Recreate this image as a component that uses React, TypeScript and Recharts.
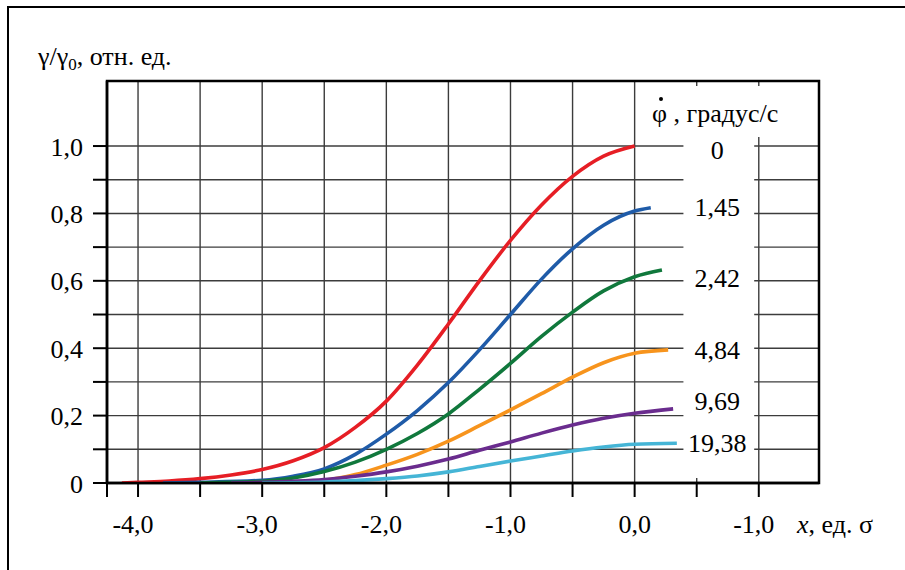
import React from "react";
import {
  LineChart,
  Line,
  XAxis,
  YAxis,
  CartesianGrid,
  ReferenceArea,
  ReferenceDot,
} from "recharts";

// x-axis ticks (every 0.5 σ), labels only on whole units
const xTicks = [-4.25, -4, -3.5, -3, -2.5, -2, -1.5, -1, -0.5, 0, 0.5, 1];
const xLabelValues = [-4, -3, -2, -1, 0, 1];
const xLabelTexts = ["-4,0", "-3,0", "-2,0", "-1,0", "0,0", "-1,0"];

// y-axis ticks (every 0.1), labels every 0.2
const yTicks = [0, 0.1, 0.2, 0.3, 0.4, 0.5, 0.6, 0.7, 0.8, 0.9, 1.0];
const yLabelValues = [0, 0.2, 0.4, 0.6, 0.8, 1.0];
const yLabelTexts = ["0", "0,2", "0,4", "0,6", "0,8", "1,0"];

// angular rate, градус/с
const rateLabels = ["0", "1,45", "2,42", "4,84", "9,69", "19,38"];
const rateColors = ["#e61e25", "#1f5ba8", "#10783c", "#f7941d", "#6a2c8e", "#45b5d6"];

const rate0 = [
  { x: -4.13, y: 0 }, { x: -4.0, y: 0.002 }, { x: -3.75, y: 0.006 }, { x: -3.5, y: 0.013 },
  { x: -3.25, y: 0.024 }, { x: -3.0, y: 0.04 }, { x: -2.75, y: 0.066 }, { x: -2.5, y: 0.105 },
  { x: -2.25, y: 0.165 }, { x: -2.0, y: 0.243 }, { x: -1.75, y: 0.35 }, { x: -1.5, y: 0.472 },
  { x: -1.25, y: 0.6 }, { x: -1.0, y: 0.72 }, { x: -0.75, y: 0.825 }, { x: -0.5, y: 0.91 },
  { x: -0.25, y: 0.97 }, { x: 0.0, y: 1.0 },
];
const rate145 = [
  { x: -3.8, y: 0 }, { x: -3.5, y: 0.002 }, { x: -3.0, y: 0.008 }, { x: -2.75, y: 0.02 },
  { x: -2.5, y: 0.042 }, { x: -2.25, y: 0.085 }, { x: -2.0, y: 0.145 }, { x: -1.75, y: 0.215 },
  { x: -1.5, y: 0.298 }, { x: -1.25, y: 0.395 }, { x: -1.0, y: 0.5 }, { x: -0.75, y: 0.605 },
  { x: -0.5, y: 0.695 }, { x: -0.25, y: 0.765 }, { x: 0.0, y: 0.807 }, { x: 0.13, y: 0.817 },
];
const rate242 = [
  { x: -3.5, y: 0 }, { x: -3.0, y: 0.005 }, { x: -2.75, y: 0.015 }, { x: -2.5, y: 0.034 },
  { x: -2.25, y: 0.062 }, { x: -2.0, y: 0.1 }, { x: -1.75, y: 0.147 }, { x: -1.5, y: 0.205 },
  { x: -1.25, y: 0.278 }, { x: -1.0, y: 0.355 }, { x: -0.75, y: 0.435 }, { x: -0.5, y: 0.507 },
  { x: -0.25, y: 0.57 }, { x: 0.0, y: 0.612 }, { x: 0.22, y: 0.632 },
];
const rate484 = [
  { x: -2.9, y: 0 }, { x: -2.5, y: 0.008 }, { x: -2.25, y: 0.025 }, { x: -2.0, y: 0.053 },
  { x: -1.75, y: 0.085 }, { x: -1.5, y: 0.124 }, { x: -1.25, y: 0.17 }, { x: -1.0, y: 0.217 },
  { x: -0.75, y: 0.265 }, { x: -0.5, y: 0.314 }, { x: -0.25, y: 0.357 }, { x: 0.0, y: 0.385 },
  { x: 0.27, y: 0.395 },
];
const rate969 = [
  { x: -3.25, y: 0 }, { x: -3.0, y: 0.002 }, { x: -2.75, y: 0.005 }, { x: -2.5, y: 0.01 },
  { x: -2.25, y: 0.02 }, { x: -2.0, y: 0.033 }, { x: -1.75, y: 0.05 }, { x: -1.5, y: 0.071 },
  { x: -1.25, y: 0.097 }, { x: -1.0, y: 0.122 }, { x: -0.75, y: 0.148 }, { x: -0.5, y: 0.172 },
  { x: -0.25, y: 0.192 }, { x: 0.0, y: 0.207 }, { x: 0.31, y: 0.22 },
];
const rate1938 = [
  { x: -3.0, y: 0 }, { x: -2.5, y: 0.003 }, { x: -2.25, y: 0.007 }, { x: -2.0, y: 0.013 },
  { x: -1.75, y: 0.021 }, { x: -1.5, y: 0.033 }, { x: -1.25, y: 0.049 }, { x: -1.0, y: 0.065 },
  { x: -0.75, y: 0.08 }, { x: -0.5, y: 0.095 }, { x: -0.25, y: 0.107 }, { x: 0.0, y: 0.115 },
  { x: 0.34, y: 0.118 },
];
const series = [rate0, rate145, rate242, rate484, rate969, rate1938];

const FONT =
  "'Liberation Serif', 'Times New Roman', Times, 'Noto Serif', 'DejaVu Serif', 'Nimbus Roman', serif";
const X_MIN = -4.25;
const X_MAX = 1.485;
const Y_MAX = 1.193;
// vertical nudges (px) so the rate labels sit where the original has them
const labelNudge = [3, -1, 7, 0, -8, -1];

const XTick = (props: any) => {
  const { x, y, payload } = props;
  const i = xLabelValues.findIndex((v) => Math.abs(v - payload.value) < 1e-6);
  if (i < 0) return null;
  const text = xLabelTexts[i];
  return (
    <text
      x={x + (text.startsWith("-") ? -5 : 0)}
      y={y + 22}
      textAnchor="middle"
      fontSize={26}
      style={{ fontFamily: FONT }}
      fill="#000"
    >
      {text}
    </text>
  );
};

const YTick = (props: any) => {
  const { x, y, payload } = props;
  const i = yLabelValues.findIndex((v) => Math.abs(v - payload.value) < 1e-6);
  if (i < 0) return null;
  return (
    <text x={x} y={y + 9.5} textAnchor="end" fontSize={26} style={{ fontFamily: FONT }} fill="#000">
      {yLabelTexts[i]}
    </text>
  );
};

export default function App() {
  return (
    <div
      style={{
        position: "absolute",
        left: 0,
        top: 0,
        width: 905,
        height: 570,
        background: "#fff",
        fontFamily: FONT,
      }}
    >
      <div
        style={{
          position: "absolute",
          left: 7,
          top: 6,
          width: 905,
          height: 570,
          borderLeft: "2px solid #000",
          borderTop: "2px solid #000",
        }}
      />
      <LineChart
        width={905}
        height={570}
        margin={{ top: 81, right: 86, bottom: 37, left: 47 }}
        style={{ position: "absolute", left: 0, top: 0 }}
      >
        <CartesianGrid stroke="#3c3c3c" strokeWidth={1.4} />
        <XAxis
          type="number"
          dataKey="x"
          domain={[X_MIN, X_MAX]}
          ticks={xTicks}
          allowDataOverflow
          height={50}
          tickSize={14}
          tickMargin={14}
          tick={<XTick />}
          axisLine={{ stroke: "#000", strokeWidth: 2.5 }}
          tickLine={{ stroke: "#000", strokeWidth: 2 }}
        />
        <YAxis
          type="number"
          dataKey="y"
          domain={[0, Y_MAX]}
          ticks={yTicks}
          allowDataOverflow
          width={60}
          tickSize={14}
          tickMargin={10}
          tick={<YTick />}
          axisLine={{ stroke: "#000", strokeWidth: 2.5 }}
          tickLine={{ stroke: "#000", strokeWidth: 2 }}
        />
        <ReferenceArea x1={0.393} x2={0.963} y1={0.015} y2={1.178} fill="#fff" fillOpacity={1} stroke="none" ifOverflow="visible" />
        <ReferenceArea x1={0.128} x2={X_MAX} y1={1.027} y2={1.178} fill="#fff" fillOpacity={1} stroke="none" ifOverflow="visible" />
        <ReferenceArea x1={X_MIN} x2={X_MAX} y1={0} y2={Y_MAX} fill="none" stroke="#000" strokeWidth={2.5} ifOverflow="visible" />
        {series.map((data, i) => (
          <Line
            key={rateLabels[i]}
            data={data}
            dataKey="y"
            type="monotone"
            stroke={rateColors[i]}
            strokeWidth={3.6}
            dot={false}
            activeDot={false}
            isAnimationActive={false}
          />
        ))}
        {series.map((data, i) => (
          <ReferenceDot
            key={"lbl" + i}
            x={0.666}
            y={data[data.length - 1].y}
            r={0}
            fill="none"
            stroke="none"
            ifOverflow="visible"
            label={{
              content: ({ viewBox }: any) => (
                <text
                  x={viewBox.x}
                  y={viewBox.y + 9.5 + labelNudge[i]}
                  textAnchor="middle"
                  fontSize={26}
                  style={{ fontFamily: FONT }}
                  fill="#000"
                >
                  {rateLabels[i]}
                </text>
              ),
            }}
          />
        ))}
      </LineChart>
      <svg
        width={905}
        height={570}
        style={{ position: "absolute", left: 0, top: 0, pointerEvents: "none", fontFamily: FONT }}
      >
        <text x={38} y={65} fontSize={26} fill="#000">
          γ/γ<tspan fontSize={17} dy={5}>0</tspan>
          <tspan dy={-5}>, отн. ед.</tspan>
        </text>
        <text x={652} y={122} fontSize={26} fill="#000">
          φ , градус/с
        </text>
        <circle cx={661} cy={99} r={2} fill="#000" />
        <text x={797} y={533} fontSize={26} fill="#000">
          <tspan fontStyle="italic">x</tspan>, ед. σ
        </text>
      </svg>
    </div>
  );
}
